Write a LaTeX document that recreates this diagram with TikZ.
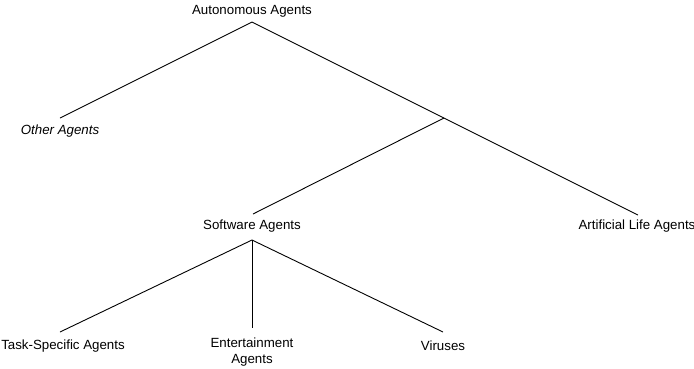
\documentclass[tikz,border=0pt]{standalone}
\usepackage{fontspec}
\setmainfont{Liberation Sans}
\begin{document}
\begin{tikzpicture}[x=1pt,y=-1pt,
  label/.style={inner sep=0pt,font=\fontsize{13.3}{16}\selectfont,align=center},
  branch/.style={draw=black,line width=0.9pt}]
\useasboundingbox (0,0) rectangle (694,368);
% labels
\node[label] (auto)  at (252,11)  {Autonomous Agents};
\node[label] (other) at (60,131)  {\itshape Other Agents};
\node[label] (soft)  at (252,226) {Software Agents};
\node[label] (alife) at (637,226) {Artificial Life Agents};
\node[label] (task)  at (63,346)  {Task-Specific Agents};
\node[label] (ent)   at (252,352.5) {Entertainment\\Agents};
\node[label] (vir)   at (443,346) {Viruses};
% branch points and line ends
\coordinate (auto-b)  at (252,22);
\coordinate (other-t) at (60,118);
\coordinate (alife-t) at (638,215);
\coordinate (j)       at (444,118);
\coordinate (soft-t)  at (253,214);
\coordinate (soft-b)  at (252,240);
\coordinate (task-t)  at (60,332);
\coordinate (ent-t)   at (252,328);
\coordinate (vir-t)   at (443,332);
% tree
\draw[branch] (auto-b) -- (other-t);
\draw[branch] (auto-b) -- (alife-t);
\draw[branch] (j) -- (soft-t);
\draw[branch] (soft-b) -- (task-t);
\draw[branch] (soft-b) -- (ent-t);
\draw[branch] (soft-b) -- (vir-t);
\end{tikzpicture}
\end{document}
